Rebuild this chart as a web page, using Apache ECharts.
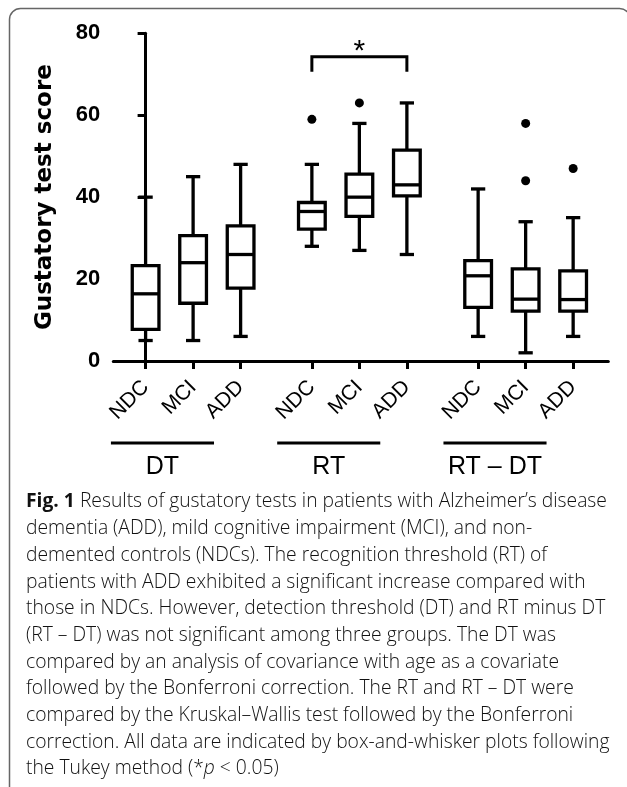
<!DOCTYPE html>
<html><head><meta charset="utf-8">
<script src="https://cdn.jsdelivr.net/npm/echarts@6/dist/echarts.min.js"></script>
<style>html,body{margin:0;padding:0;background:#fff}#c{width:627px;height:787px}</style>
</head><body><div id="c"></div>
<script>
// ---- data ----
const categories = ['NDC','MCI','ADD','NDC','MCI','ADD','NDC','MCI','ADD'];
const positions  = [0, 1, 2, 3.5, 4.5, 5.5, 7, 8, 9];
const groupNames = ['DT', 'RT', 'RT \u2013 DT'];
const groupStarts = [0, 3.5, 7];
const whiskerLow  = [5, 5, 6, 28, 27, 26, 6, 2, 6];
const q1Values    = [7.7, 14.1, 17.8, 32.2, 35.3, 40.3, 13.1, 12.2, 12.2];
const medians     = [16.4, 24, 26, 36.5, 40, 43, 20.8, 15.1, 15];
const q3Values    = [23.3, 30.6, 33, 38.7, 45.6, 51.5, 24.5, 22.5, 22];
const whiskerHigh = [40, 45, 48, 48, 58, 63, 42, 34, 35];
const outlierIndex = [3, 4, 7, 7, 8];
const outlierValue = [59, 63, 58, 44, 47];
const yTicks = [0, 20, 40, 60, 80];
const sigFrom = 3, sigTo = 5;          // RT NDC vs RT ADD
const sigLegY = 70.6, sigBarY = 74.3, sigStarY = 75.6;
const captionLines = [
  '{b|Fig. 1} Results of gustatory tests in patients with Alzheimer\u2019s disease',
  'dementia (ADD), mild cognitive impairment (MCI), and non-',
  'demented controls (NDCs). The recognition threshold (RT) of',
  'patients with ADD exhibited a significant increase compared with',
  'those in NDCs. However, detection threshold (DT) and RT minus DT',
  '(RT \u2013 DT) was not significant among three groups. The DT was',
  'compared by an analysis of covariance with age as a covariate',
  'followed by the Bonferroni correction. The RT and RT \u2013 DT were',
  'compared by the Kruskal\u2013Wallis test followed by the Bonferroni',
  'correction. All data are indicated by box-and-whisker plots following',
  'the Tukey method (*{i|p} < 0.05)'
];

// ---- build ----
const boxData = positions.map((p, i) => [p, whiskerLow[i], q1Values[i], medians[i], q3Values[i], whiskerHigh[i]]);
const outlierData = outlierIndex.map((k, i) => [positions[k], outlierValue[i]]);
const LW = 3, BLW = 3.3;
function seg(a, b, w) {
  return {type: 'line', shape: {x1: a[0], y1: a[1], x2: b[0], y2: b[1]}, style: {stroke: '#000', lineWidth: w || BLW}};
}
function renderBox(params, api) {
  const x = api.value(0), lo = api.value(1), q1 = api.value(2), md = api.value(3), q3 = api.value(4), hi = api.value(5);
  const bw = 0.281, cw = 0.15;
  const P = (xx, yy) => api.coord([xx, yy]);
  const tl = P(x - bw, q3), br = P(x + bw, q1);
  return {type: 'group', children: [
    seg(P(x, hi), P(x, q3)), seg(P(x, q1), P(x, lo)),
    seg(P(x - cw, hi), P(x + cw, hi)), seg(P(x - cw, lo), P(x + cw, lo)),
    {type: 'rect', shape: {x: tl[0], y: tl[1], width: br[0] - tl[0], height: br[1] - tl[1]},
     style: {stroke: '#000', fill: '#fff', lineWidth: BLW}},
    seg(P(x - bw, md), P(x + bw, md))
  ]};
}
function renderGroup(params, api) {
  const s = api.value(0);
  const a = api.coord([s - 0.73, -20]), b = api.coord([s + 1.44, -20]);
  const t = api.coord([s + 0.355, -25.8]);
  return {type: 'group', children: [
    seg(a, b, 3),
    {type: 'text', x: t[0], y: t[1], style: {text: groupNames[params.dataIndex], fill: '#000',
      font: '25px "Liberation Sans", Arial, sans-serif', align: 'center', verticalAlign: 'middle'}}
  ]};
}
function renderSig(params, api) {
  const a = api.value(0), b = api.value(1);
  const p1 = api.coord([a, sigLegY]), p2 = api.coord([a, sigBarY]), p3 = api.coord([b, sigBarY]), p4 = api.coord([b, sigLegY]);
  const st = api.coord([(a + b) / 2, sigStarY]);
  return {type: 'group', children: [
    {type: 'polyline', shape: {points: [p1, p2, p3, p4]}, style: {stroke: '#000', lineWidth: LW, fill: null}},
    {type: 'text', x: st[0], y: st[1], style: {text: '*', fill: '#000', font: '30px "Liberation Sans", Arial, sans-serif',
      align: 'center', verticalAlign: 'middle'}}
  ]};
}

const chart = echarts.init(document.getElementById('c'), null, {renderer: 'canvas'});
const capX = 26, capY0 = 502, capDY = 26.7, capFS = 19.3;
const captionGraphics = captionLines.map((t, i) => ({
  type: 'text', x: capX, y: capY0 + i * capDY,
  style: {text: t, fill: '#111', font: '300 ' + capFS + 'px "Open Sans", sans-serif', verticalAlign: 'middle',
    rich: {b: {fontWeight: 'bold', fontSize: capFS, fontFamily: 'Open Sans', fill: '#111'},
           i: {fontStyle: 'italic', fontSize: capFS, fontFamily: 'Open Sans', fill: '#111', fontWeight: 300}}}
}));
chart.setOption({
  animation: false,
  backgroundColor: '#fff',
  graphic: [
    {type: 'rect', shape: {x: 9.5, y: 8.5, width: 621, height: 790, r: 11},
     style: {stroke: '#666', lineWidth: 1.5, fill: null}, silent: true}
  ].concat(captionGraphics),
  grid: {left: 113.3, right: 18.7, top: 33.3, bottom: 426, containLabel: false},
  xAxis: {
    type: 'value', min: -0.68, max: 9.74,
    splitLine: {show: false},
    axisLine: {show: true, onZero: false, lineStyle: {color: '#000', width: LW}},
    axisTick: {show: true, customValues: positions, length: 8, lineStyle: {color: '#000', width: LW}},
    axisLabel: {show: true, customValues: positions, rotate: 45, margin: 23, color: '#000',
      fontSize: 21, fontFamily: '"Liberation Sans", Arial, sans-serif',
      formatter: v => categories[positions.indexOf(v)] || ''}
  },
  yAxis: {
    type: 'value', min: 0, max: 80, interval: 20,
    splitLine: {show: false},
    name: 'Gustatory test score', nameLocation: 'middle', nameGap: 57, nameRotate: 90,
    nameTextStyle: {color: '#000', fontSize: 23, fontWeight: 'bold', fontFamily: '"DejaVu Sans", sans-serif'},
    axisLine: {show: true, lineStyle: {color: '#000', width: LW}},
    axisTick: {show: true, length: 8, lineStyle: {color: '#000', width: LW}},
    axisLabel: {margin: 13, color: '#000', fontSize: 22, fontWeight: 'bold', fontFamily: '"Liberation Sans", Arial, sans-serif',
      customValues: yTicks}
  },
  series: [
    {type: 'custom', renderItem: renderBox, data: boxData, clip: false, z: 3},
    {type: 'scatter', data: outlierData, symbol: 'circle', symbolSize: 9, itemStyle: {color: '#000', opacity: 1}, z: 4},
    {type: 'custom', renderItem: renderGroup, data: groupStarts.map(s => [s]), clip: false, z: 3},
    {type: 'custom', renderItem: renderSig, data: [[positions[sigFrom], positions[sigTo]]], clip: false, z: 3}
  ]
});
</script></body></html>
